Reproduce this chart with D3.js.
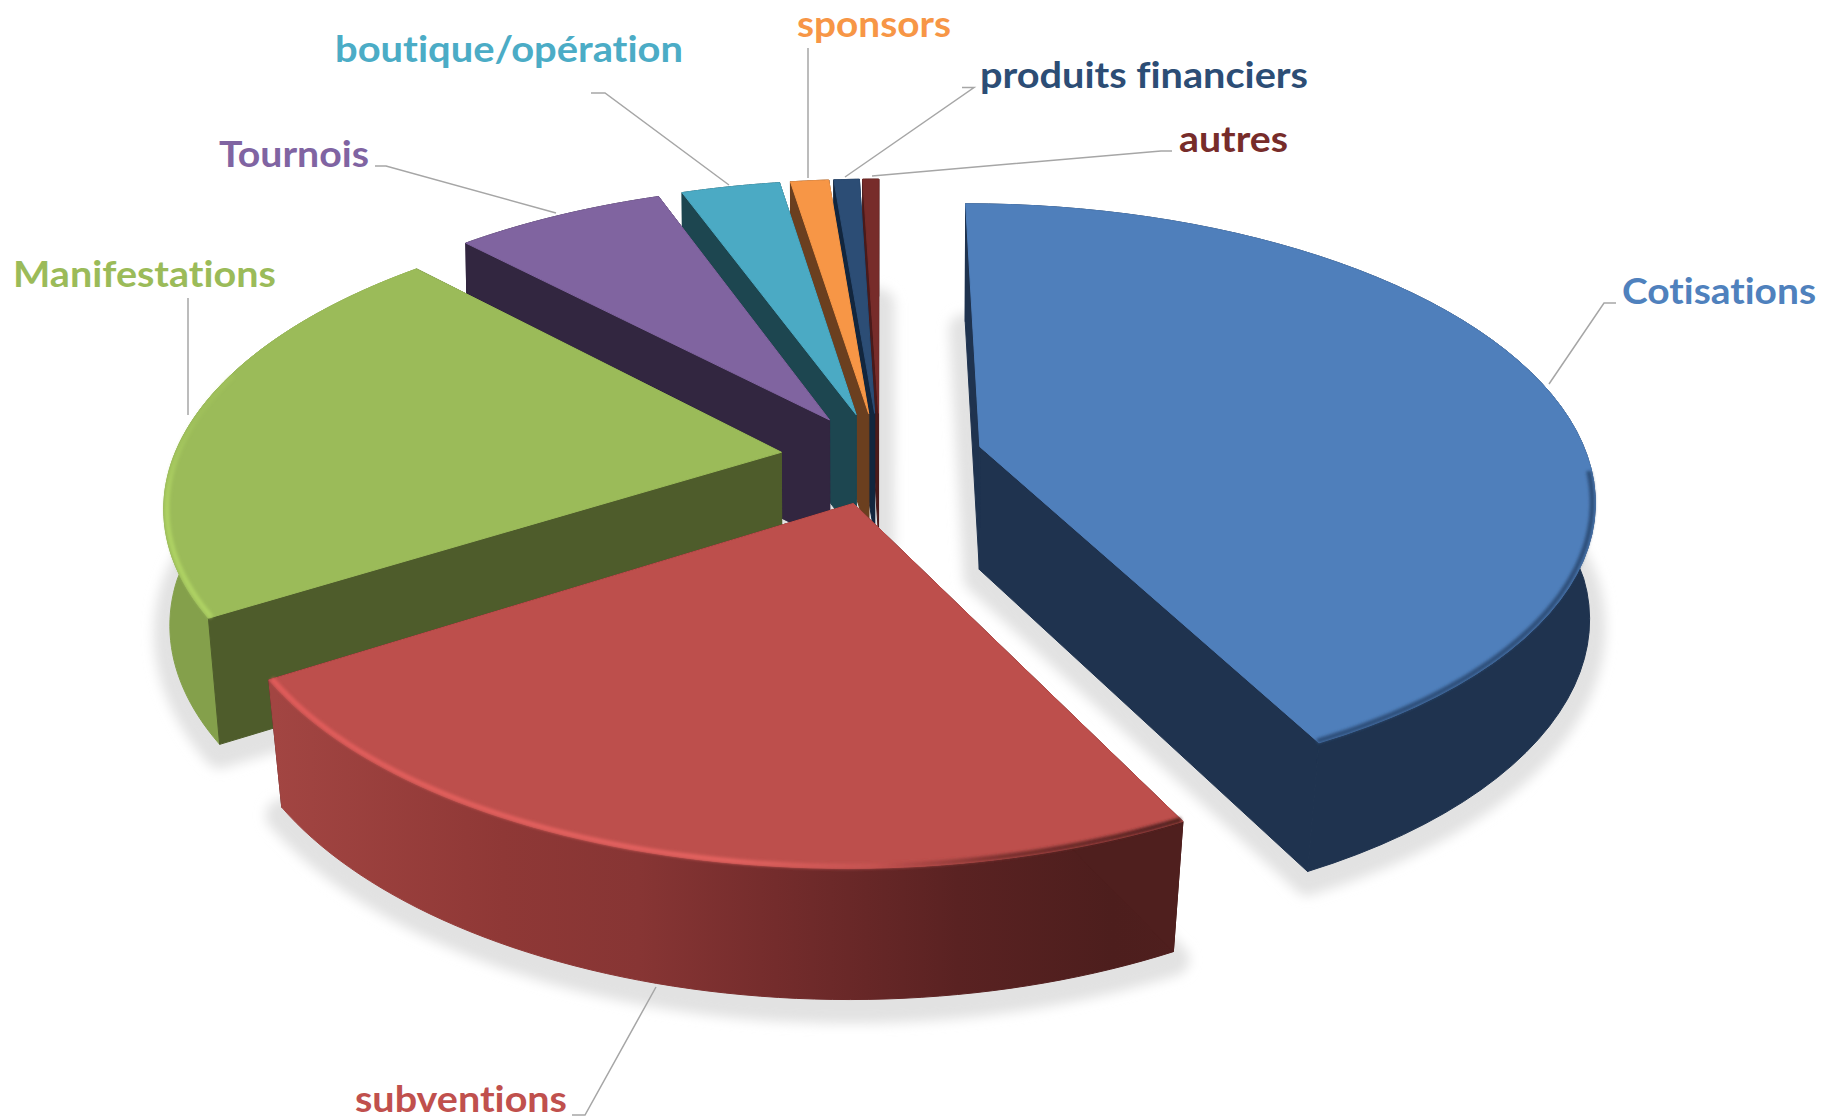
<!DOCTYPE html>
<html>
<head>
<meta charset="utf-8">
<title>Recettes</title>
<script src="https://cdn.jsdelivr.net/npm/d3@7"></script>
<style>
  body { margin: 0; background: #fff; }
  svg { display: block; }
  text { font-family: Lato, "Noto Sans", sans-serif; font-weight: 700; font-variant-ligatures: none; }
</style>
</head>
<body>
<div id="chart"></div>
<script>
// Values (share of the total, %)
var categories = ["Cotisations", "subventions", "Manifestations", "Tournois",
                  "boutique/opération", "sponsors", "produits financiers", "autres"];
var values = [42.5, 23.6, 21.7, 6.6, 3.1, 1.2, 0.8, 0.5];
// How far each slice is pulled out of the pie
var pullOut = [0.17, 0.16, 0.164, 0.16, 0.16, 0.16, 0.16, 0.16];

var topColors = ["#4f7fbb", "#bd4f4c", "#9bbb59", "#8064a0", "#4baac4", "#f79646", "#2c4d75", "#772c2a"];
var wallColors = ["#1f334f", "#4f1f1e", "#4e5c2b", "#322640", "#1d4650", "#6b3f1f", "#12263e", "#4a1a1a"];
var rimColors = ["#1f334f", "url(#rimRed)", "#84a04b", "#322640", "#1d4650", "#6b3f1f", "#12263e", "#4a1a1a"];
var labelColors = ["#4f81bd", "#c0504d", "#9bbb59", "#8064a2", "#4bacc6", "#f79646", "#2c4d75", "#772c2a"];

// Label placement: text left, text right, baseline, then the leader line
var labelLayout = [
    {x0: 1622, x1: 1816, y: 304, leader: [[1549, 384], [1604, 303], [1616, 303]]},
    {x0: 355, x1: 567, y: 1112, leader: [[656, 987], [585, 1115], [572, 1115]]},
    {x0: 13, x1: 276, y: 287, leader: [[188, 298], [188, 415]]},
    {x0: 219, x1: 369, y: 167, leader: [[375, 166], [386, 166], [556, 213]]},
    {x0: 335, x1: 683, y: 62, leader: [[591, 93], [605, 93], [729, 185]]},
    {x0: 797, x1: 951, y: 37, leader: [[808, 48], [808, 178]]},
    {x0: 980, x1: 1308, y: 88, leader: [[962, 87.5], [974, 87.5], [845, 177]]},
    {x0: 1179, x1: 1288, y: 152, leader: [[1172, 151], [1161, 151], [872, 176]]}
];

var width = 1823, height = 1120;

// The camera: a unit disc lying flat, seen in perspective
var cx = 880, cy = 458;
var radX = 608, radY = 287, persp = 0.167;
var depth = 123, depthScaleY = 1.02;

function projectDisc(px, py) {
    var s = 1 / (1 - persp * py);
    return [radX * px * s, radY * py * s];
}
// point of the disc for a slice: angle is clockwise from 12 o'clock
function discPoint(d, angle, r) {
    return [d.pull * Math.sin(d.mid) + r * Math.sin(angle),
            -d.pull * Math.cos(d.mid) - r * Math.cos(angle)];
}
function topPt(d, angle, r) {
    var q = discPoint(d, angle, r), p = projectDisc(q[0], q[1]);
    return [cx + p[0], cy + p[1]];
}
function botPt(d, angle, r) {
    var q = discPoint(d, angle, r), p = projectDisc(q[0], q[1]);
    // the lower face draws in a little more toward the viewer
    var sx = 0.995 - 0.022 * Math.max(0, p[1]) / 300;
    return [cx + p[0] * sx, cy + p[1] * depthScaleY + depth];
}
function arcAngles(a0, a1) {
    return d3.range(0, 61).map(function(i) { return a0 + (a1 - a0) * i / 60; });
}

var line = d3.line();

var pie = d3.pie().sort(null).startAngle(0).endAngle(2 * Math.PI);
var slices = pie(values).map(function(d, i) {
    d.mid = (d.startAngle + d.endAngle) / 2;
    d.pull = pullOut[i];
    d.name = categories[i];
    return d;
});

function topPath(d) {
    var pts = [topPt(d, 0, 0)];
    arcAngles(d.startAngle, d.endAngle).forEach(function(a) { pts.push(topPt(d, a, 1)); });
    return line(pts) + "Z";
}
function bottomPath(d) {
    var pts = [botPt(d, 0, 0)];
    arcAngles(d.startAngle, d.endAngle).forEach(function(a) { pts.push(botPt(d, a, 1)); });
    return line(pts) + "Z";
}
function rimPath(d) {
    var as = arcAngles(d.startAngle, d.endAngle);
    var pts = as.map(function(a) { return topPt(d, a, 1); })
        .concat(as.slice().reverse().map(function(a) { return botPt(d, a, 1); }));
    return line(pts) + "Z";
}
function wallPath(d, a) {
    return line([topPt(d, 0, 0), topPt(d, a, 1), botPt(d, a, 1), botPt(d, 0, 0)]) + "Z";
}
function edgePath(d, a0, a1, r) {
    return line(arcAngles(a0, a1).map(function(a) { return topPt(d, a, r); }));
}

var svg = d3.select("#chart").append("svg")
    .attr("width", width)
    .attr("height", height);

var defs = svg.append("defs");
function blur(id, dev) {
    defs.append("filter").attr("id", id)
        .attr("filterUnits", "userSpaceOnUse")
        .attr("x", 0).attr("y", 0).attr("width", width).attr("height", height)
      .append("feGaussianBlur").attr("stdDeviation", dev);
}
blur("soft", 1.8);
blur("shadow", 6);

function gradient(id, x1, y1, x2, y2, stops) {
    var g = defs.append("linearGradient").attr("id", id)
        .attr("gradientUnits", "userSpaceOnUse")
        .attr("x1", x1).attr("y1", y1).attr("x2", x2).attr("y2", y2);
    stops.forEach(function(s) {
        g.append("stop").attr("offset", s[0]).attr("stop-color", s[1])
            .attr("stop-opacity", s[2] === undefined ? 1 : s[2]);
    });
}
gradient("rimRed", 275, 0, 1185, 0, [
    [0, "#a24542"], [0.25, "#8f3836"], [0.4, "#873534"], [0.55, "#742c2c"], [0.75, "#5a2222"], [0.92, "#4d1e1d"], [1, "#4f1f1e"]
]);
gradient("bevelRed", 275, 0, 1185, 0, [
    [0, "#e05c5a"], [0.5, "#e3625f"], [0.66, "#c45250"], [0.8, "#7a302e"], [1, "#4f1f1e"]
]);
gradient("bevelGreen", 0, 420, 0, 600, [
    [0, "#aed263", 0.2], [0.5, "#aed263"], [1, "#aed263"]
]);

// Soft floor shadow under everything
svg.append("g")
    .attr("filter", "url(#shadow)")
    .attr("transform", "translate(0,8)")
  .selectAll("path")
    .data(slices)
  .enter().append("path")
    .attr("d", bottomPath)
    .attr("fill", "#e2e2e2")
    .attr("stroke", "#e2e2e2")
    .attr("stroke-width", 32)
    .attr("stroke-linejoin", "round");

// Painter's order, from the back of the pie to the front
var order = [7, 6, 5, 4, 3, 2, 1, 0];
var gs = svg.selectAll("g.slice")
    .data(order.map(function(i) { return slices[i]; }))
  .enter().append("g")
    .attr("class", "slice");

function solid(sel, color) {
    return sel.attr("fill", color).attr("stroke", color)
        .attr("stroke-width", 1).attr("stroke-linejoin", "round");
}
solid(gs.append("path").attr("d", function(d) { return wallPath(d, d.endAngle); }),
      function(d) { return wallColors[d.index]; });
solid(gs.append("path").attr("d", rimPath),
      function(d) { return rimColors[d.index]; });
solid(gs.append("path").attr("d", function(d) { return wallPath(d, d.startAngle); }),
      function(d) { return wallColors[d.index]; });
solid(gs.append("path").attr("d", topPath),
      function(d) { return topColors[d.index]; });

// Bevel along the front edge of the three big slices
var bevels = [
    {index: 1, from: 0, to: 1, stroke: "url(#bevelRed)"},
    {index: 2, from: 0, to: 0.62, stroke: "url(#bevelGreen)"},
    {index: 0, from: 0.62, to: 1, stroke: "#2e4f7a"}
];
svg.append("g")
    .attr("filter", "url(#soft)")
  .selectAll("path")
    .data(bevels)
  .enter().append("path")
    .attr("d", function(b) {
        var d = slices[b.index], span = d.endAngle - d.startAngle;
        return edgePath(d, d.startAngle + span * b.from, d.startAngle + span * b.to, 0.995);
    })
    .attr("fill", "none")
    .attr("stroke", function(b) { return b.stroke; })
    .attr("stroke-width", 5);

// Leader lines and labels
svg.append("g").selectAll("path")
    .data(labelLayout)
  .enter().append("path")
    .attr("d", function(l) { return line(l.leader); })
    .attr("fill", "none")
    .attr("stroke", "#a6a6a6")
    .attr("stroke-width", 1.5);

svg.append("g").selectAll("text")
    .data(labelLayout)
  .enter().append("text")
    .attr("x", function(l) { return l.x0; })
    .attr("y", function(l) { return l.y; })
    .attr("textLength", function(l) { return l.x1 - l.x0; })
    .attr("lengthAdjust", "spacingAndGlyphs")
    .attr("font-size", 37)
    .attr("fill", function(l, i) { return labelColors[i]; })
    .text(function(l, i) { return categories[i]; });
</script>
</body>
</html>
